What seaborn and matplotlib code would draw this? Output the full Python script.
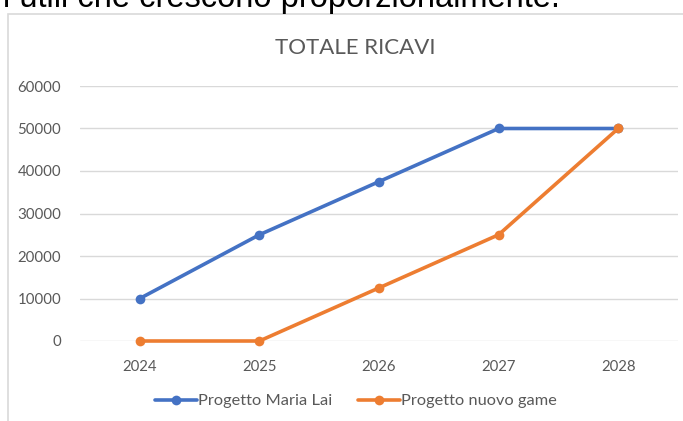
import matplotlib
matplotlib.use("Agg")
import matplotlib.pyplot as plt
from matplotlib.patches import Rectangle
import seaborn as sns
import pandas as pd

# Revenue per year for the two projects
years = ["2024", "2025", "2026", "2027", "2028"]
maria_lai = [10000, 25000, 37500, 50000, 50000]
nuovo_game = [0, 0, 12500, 25000, 50000]
series_names = ["Progetto Maria Lai", "Progetto nuovo game"]
y_ticks = [0, 10000, 20000, 30000, 40000, 50000, 60000]

df = pd.DataFrame({
    "Anno": years * 2,
    "Ricavi": maria_lai + nuovo_game,
    "Progetto": [series_names[0]] * len(years) + [series_names[1]] * len(years),
})

sns.set_theme(style="white")
plt.rcParams["font.family"] = ["Lato", "DejaVu Sans"]

W, H = 683, 421
fig = plt.figure(figsize=(W / 100, H / 100), dpi=100)

# Body text line above the chart box
fig.text(3 / W, 1 - 7 / H, "i utili che crescono proporzionalmente.",
         family=["Liberation Sans", "DejaVu Sans"], fontsize=23.5, color="black",
         ha="left", va="baseline")

# Chart box border
fig.patches.append(Rectangle((8 / W, -0.1), 1.2, 1 - 14 / H + 0.1,
                             transform=fig.transFigure, fill=False,
                             edgecolor="#d9d9d9", linewidth=1.2, zorder=0))

ax = fig.add_axes([80 / W, 1 - 341 / H, (678 - 80) / W, (341 - 86) / H])

palette = {series_names[0]: "#4472C4", series_names[1]: "#ED7D31"}
sns.lineplot(data=df, x="Anno", y="Ricavi", hue="Progetto", palette=palette,
             marker="o", markersize=7, markeredgewidth=0, linewidth=2.6,
             ax=ax, legend=True, zorder=3)

ax.set_ylim(0, 60000)
ax.set_xlim(-0.5, len(years) - 0.5)
ax.set_yticks(y_ticks)
ax.set_yticklabels([str(v) for v in y_ticks])
ax.yaxis.grid(True, color="#d9d9d9", linewidth=1.0)
ax.xaxis.grid(False)
for s in ax.spines.values():
    s.set_visible(False)
ax.tick_params(axis="y", length=0, pad=13.5, labelsize=10.8, labelcolor="#595959")
ax.tick_params(axis="x", length=0, pad=13.5, labelsize=10.7, labelcolor="#595959")
ax.set_xlabel("")
ax.set_ylabel("")
for line in ax.lines:
    line.set_clip_on(False)

fig.text(355 / W, 1 - 48 / H, "TOTALE RICAVI", fontsize=16, color="#595959",
         ha="center", va="center")

handles, labels = ax.get_legend_handles_labels()
ax.get_legend().remove()
fig.legend(handles, labels, loc="center", bbox_to_anchor=(356 / W, 1 - 401 / H),
           ncol=2, frameon=False, fontsize=11.8, labelcolor="#595959",
           handlelength=2.55, handletextpad=0.05, columnspacing=1.6)

fig.savefig("out.png", dpi=100, facecolor="white")
